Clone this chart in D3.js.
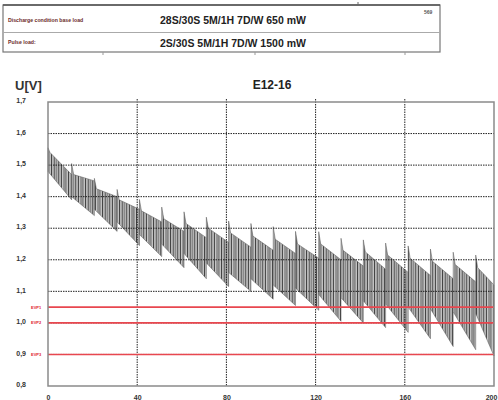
<!DOCTYPE html>
<html>
<head>
<meta charset="utf-8">
<script src="https://cdn.jsdelivr.net/npm/d3@7"></script>
<style>
  html, body { margin: 0; padding: 0; background: #fff; }
  svg { display: block; font-family: 'Liberation Sans', Arial, sans-serif; }
</style>
</head>
<body>
<svg id="chart" width="498" height="400"></svg>
<script>
/* header table texts */
const headerLabels = ['Discharge condition base load', 'Pulse load:'];
const headerValues = ['28S/30S 5M/1H 7D/W 650 mW', '2S/30S 5M/1H 7D/W 1500 mW'];
const headerRef = '569';

const chartTitle = 'E12-16';
const yLabel = 'U[V]';
const xTicks = [0, 40, 80, 120, 160, 200];
const yTicks = [0.8, 0.9, 1.0, 1.1, 1.2, 1.3, 1.4, 1.5, 1.6, 1.7];

/* end-of-discharge voltage limits */
const limitNames = ['EVP1', 'EVP2', 'EVP3'];
const limitValues = [1.05, 1.0, 0.9];

/* one entry per recovery cycle */
const cycleStart = [0, 10.6, 20.8, 31, 41, 51, 61, 71, 81, 91, 101, 111, 121.4, 131.4, 141.4, 151.4, 161.5, 171.5, 181.7, 191.8];
const peakV = [1.555, 1.505, 1.458, 1.423, 1.391, 1.367, 1.352, 1.335, 1.323, 1.315, 1.305, 1.29, 1.289, 1.268, 1.263, 1.253, 1.244, 1.234, 1.224, 1.215];
const topAfterV = [1.54, 1.47, 1.425, 1.39, 1.355, 1.33, 1.315, 1.3, 1.285, 1.275, 1.265, 1.25, 1.25, 1.23, 1.225, 1.215, 1.205, 1.195, 1.185, 1.175];
const topEndV = [1.47, 1.45, 1.4, 1.36, 1.32, 1.29, 1.27, 1.255, 1.24, 1.23, 1.22, 1.205, 1.2, 1.18, 1.17, 1.16, 1.15, 1.14, 1.13, 1.12];
const lowStartV = [1.48, 1.4, 1.36, 1.32, 1.28, 1.25, 1.22, 1.19, 1.16, 1.14, 1.12, 1.11, 1.09, 1.08, 1.07, 1.06, 1.05, 1.045, 1.035, 1.03];
const lowEndV = [1.39, 1.34, 1.29, 1.245, 1.21, 1.175, 1.14, 1.115, 1.1, 1.075, 1.055, 1.04, 1.005, 1.0, 0.985, 0.97, 0.95, 0.925, 0.915, 0.895];

const svg = d3.select('#chart');

/* ---- header table ---- */
const head = svg.append('g');
head.append('rect')
  .attr('x', 3).attr('y', 5).attr('width', 437).attr('height', 47)
  .attr('fill', 'none').attr('stroke', '#777').attr('stroke-width', 1.2);
head.append('line')
  .attr('x1', 3).attr('x2', 440).attr('y1', 5).attr('y2', 5)
  .attr('stroke', '#555').attr('stroke-width', 1.6);
head.append('line')
  .attr('x1', 3).attr('x2', 440).attr('y1', 32.5).attr('y2', 32.5)
  .attr('stroke', '#aaa').attr('stroke-width', 1);
head.append('line')
  .attr('x1', 358).attr('x2', 358).attr('y1', 2).attr('y2', 5)
  .attr('stroke', '#666');
[103, 255, 405].forEach(function (x) {
  head.append('line')
    .attr('x1', x).attr('x2', x).attr('y1', 52).attr('y2', 55)
    .attr('stroke', '#999');
});
head.selectAll('.hlabel')
  .data(headerLabels)
  .enter()
  .append('text')
  .attr('class', 'hlabel')
  .attr('x', 8)
  .attr('y', function (d, i) { return i === 0 ? 22 : 44; })
  .attr('font-size', 5.2)
  .attr('font-weight', 'bold')
  .attr('fill', '#6b2a1f')
  .text(function (d) { return d; });
head.selectAll('.hvalue')
  .data(headerValues)
  .enter()
  .append('text')
  .attr('class', 'hvalue')
  .attr('x', 160)
  .attr('y', function (d, i) { return i === 0 ? 24 : 47; })
  .attr('font-size', 10.5)
  .attr('font-weight', 'bold')
  .attr('fill', '#222')
  .text(function (d) { return d; });
head.append('text')
  .attr('x', 424).attr('y', 14)
  .attr('font-size', 5)
  .attr('font-weight', 'bold')
  .attr('fill', '#555')
  .text(headerRef);

/* ---- chart ---- */
const plot = { left: 48, right: 494, top: 102, bottom: 386 };
const xScale = d3.scaleLinear([0, 200], [plot.left, plot.right]);
const yScale = d3.scaleLinear([0.8, 1.7], [plot.bottom, plot.top]);

svg.append('text')
  .attr('x', 272).attr('y', 89)
  .attr('text-anchor', 'middle')
  .attr('font-size', 12)
  .attr('font-weight', 'bold')
  .attr('fill', '#222')
  .text(chartTitle);

svg.append('text')
  .attr('x', 15).attr('y', 90)
  .attr('font-size', 13)
  .attr('font-weight', 'bold')
  .attr('fill', '#333')
  .text(yLabel);

/* hatch pattern for the dense pulse trace */
const defs = svg.append('defs');
const pat = defs.append('pattern')
  .attr('id', 'pulses')
  .attr('patternUnits', 'userSpaceOnUse')
  .attr('width', 3.4)
  .attr('height', 4);
pat.append('rect').attr('width', 3.4).attr('height', 4).attr('fill', '#c8c8c8');
pat.append('rect').attr('width', 0.8).attr('height', 4).attr('fill', '#2e2e2e');
pat.append('rect').attr('x', 1.7).attr('width', 0.7).attr('height', 4).attr('fill', '#7a7a7a');

/* trace: one shape per recovery cycle */
const SPIKE = 0.9;
const cycles = cycleStart.map(function (x0, i) {
  const x1 = i < cycleStart.length - 1 ? cycleStart[i + 1] : 200;
  return [
    [x0, lowStartV[i]],
    [x0, peakV[i]],
    [x0 + SPIKE, topAfterV[i]],
    [x1, topEndV[i]],
    [x1, lowEndV[i]]
  ];
});
const area = d3.line()
  .x(function (d) { return xScale(d[0]); })
  .y(function (d) { return yScale(d[1]); });

svg.append('g')
  .selectAll('path')
  .data(cycles)
  .enter()
  .append('path')
  .attr('d', function (d) { return area(d) + 'Z'; })
  .attr('fill', 'url(#pulses)')
  .attr('stroke', '#555')
  .attr('stroke-width', 0.5)
  .attr('stroke-linejoin', 'miter');

/* grid */
const grid = svg.append('g')
  .attr('stroke', '#222')
  .attr('stroke-width', 1)
  .attr('stroke-dasharray', '1.5,1');
grid.selectAll('.gy')
  .data(yTicks.slice(1, -1))
  .enter()
  .append('line')
  .attr('x1', plot.left).attr('x2', plot.right)
  .attr('y1', function (d) { return yScale(d); })
  .attr('y2', function (d) { return yScale(d); });
grid.selectAll('.gx')
  .data(xTicks.slice(1, -1))
  .enter()
  .append('line')
  .attr('x1', function (d) { return xScale(d); })
  .attr('x2', function (d) { return xScale(d); })
  .attr('y1', plot.top - 3)
  .attr('y2', plot.bottom);

/* limit lines */
svg.append('g')
  .selectAll('line')
  .data(limitValues)
  .enter()
  .append('line')
  .attr('x1', plot.left).attr('x2', plot.right)
  .attr('y1', function (d) { return yScale(d); })
  .attr('y2', function (d) { return yScale(d); })
  .attr('stroke', '#e8474f')
  .attr('stroke-width', 1.6);
svg.append('g')
  .selectAll('text')
  .data(limitValues)
  .enter()
  .append('text')
  .attr('x', 31)
  .attr('y', function (d) { return yScale(d); })
  .attr('dy', '0.35em')
  .attr('font-size', 4)
  .attr('font-weight', 'bold')
  .attr('fill', '#e0202c')
  .text(function (d, i) { return limitNames[i]; });

/* frame */
svg.append('rect')
  .attr('x', plot.left).attr('y', plot.top)
  .attr('width', plot.right - plot.left)
  .attr('height', plot.bottom - plot.top)
  .attr('fill', 'none')
  .attr('stroke', '#8a8a8a')
  .attr('stroke-width', 1.5);

/* axes */
const leftAxis = d3.axisLeft(yScale)
  .tickValues(yTicks)
  .tickSize(0)
  .tickPadding(22)
  .tickFormat(function (d) { return d3.format('.1f')(d).replace('.', ','); });
svg.append('g')
  .attr('transform', `translate(${plot.left}, 0)`)
  .call(leftAxis)
  .call(function (g) { g.select('.domain').remove(); })
  .selectAll('text')
  .attr('font-size', 7)
  .attr('font-weight', 'bold')
  .attr('fill', '#333')
  .attr('dy', '0.1em');

const bottomAxis = d3.axisBottom(xScale)
  .tickValues(xTicks)
  .tickSize(0)
  .tickPadding(9);
svg.append('g')
  .attr('transform', `translate(0, ${plot.bottom})`)
  .call(bottomAxis)
  .call(function (g) { g.select('.domain').remove(); })
  .selectAll('text')
  .attr('font-size', 7)
  .attr('font-weight', 'bold')
  .attr('fill', '#333')
  .attr('dx', function (d) { return d === 200 ? -3 : 0; });
</script>
</body>
</html>
